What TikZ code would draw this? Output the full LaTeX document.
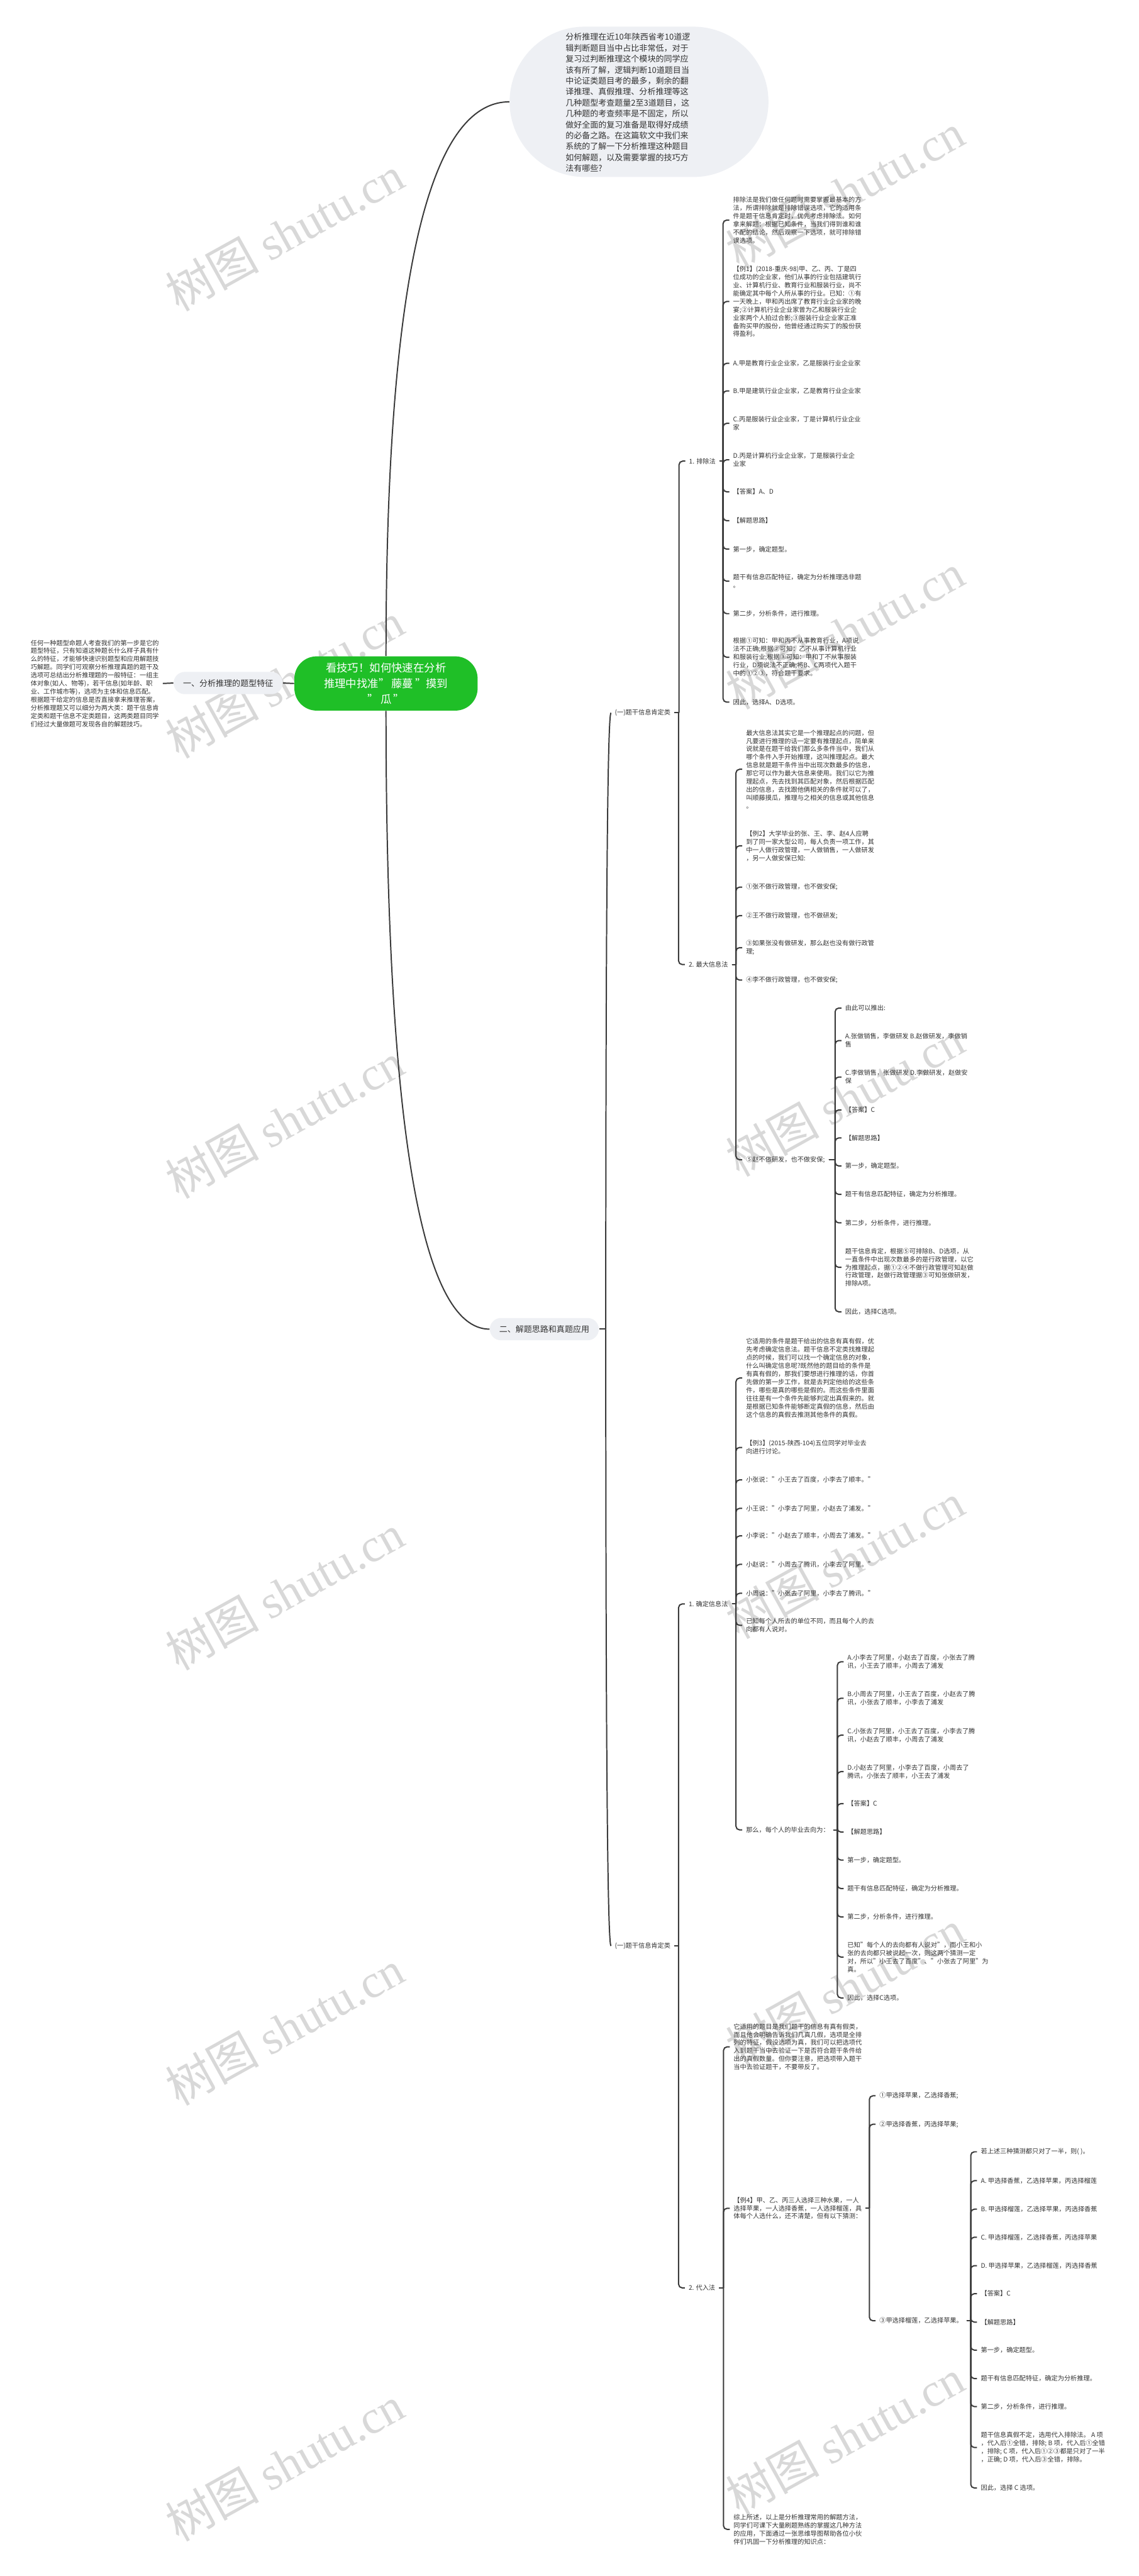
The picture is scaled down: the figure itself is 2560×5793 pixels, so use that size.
\documentclass[tikz,border=0pt]{standalone}
\usepackage{fontspec}
\setmainfont{Noto Sans CJK SC}
\newfontfamily\markfont{Liberation Serif}
\usetikzlibrary{positioning, calc}
\usepackage{xcolor}
\definecolor{RootGreen}{HTML}{1FBF27}
\definecolor{BgTopic}  {HTML}{EEF0F4}
\definecolor{InkGray}  {HTML}{333333}
\definecolor{LineGray} {HTML}{3A3A3A}
\definecolor{MarkGray} {HTML}{D8D8D8}
\tikzset{
  every node/.style={font=\fontsize{4.1pt}{5.2pt}\selectfont, text=InkGray},
  % central topic and first level
  root/.style={fill=RootGreen, text=white, align=center, rounded corners=5mm,
               minimum width=41.2mm, minimum height=12.2mm,
               font=\fontsize{7pt}{10pt}\selectfont},
  topic/.style={fill=BgTopic, rounded corners=2.5mm, minimum width=24.5mm,
                minimum height=5mm, font=\fontsize{5.24pt}{7pt}\selectfont},
  bubble/.style={fill=BgTopic, rounded corners=16.9mm, minimum width=58.2mm,
                 minimum height=33.8mm},
  % plain branch texts
  leaf/.style={anchor=west, align=left, inner xsep=0.8mm, inner ysep=0.4mm},
  conn/.style={draw=LineGray, line width=0.28mm},
  curvy/.style={to path={.. controls ($(\tikztostart)!2/3!(\tikztostart|-\tikztotarget)$)
                and ($(\tikztotarget)!2/3!(\tikztostart|-\tikztotarget)$) .. (\tikztotarget)}},
  wmark/.style={text=MarkGray, rotate=29, font=\fontsize{30pt}{30pt}\selectfont},
}
% bracket hook from a parent to one child
\newcommand\twig[2]{%
  \draw[conn] (#1.east) -- ($(#1.east -| #2.west)+(-14,0)$);
  \draw[conn, rounded corners=0.8mm] ($(#1.east -| #2.west)+(-14,0)$) |- (#2.west);}

\begin{document}
\begin{tikzpicture}[x=0.1mm, y=-0.1mm]
\useasboundingbox (0,0) rectangle (2560,5793);
\fill[white] (0,0) rectangle (2560,5793);

% watermarks
\foreach \wy in {525,1530,2520,3580,4560,5540}
  \node[wmark] (wl\wy) at (640,\wy) {树图 {\markfont shutu.cn}};
\foreach \wy in {430,1420,2470,3510,4470,5480}
  \node[wmark] (wr\wy) at (1900,\wy) {树图 {\markfont shutu.cn}};

% intro bubble
\node[bubble] (intro) at (1437,229) {};
\node[align=left, font=\fontsize{5.24pt}{7pt}\selectfont] (introtxt) at (1412,231)
  {分析推理在近10年陕西省考10道逻\\辑判断题目当中占比非常低，对于\\复习过判断推理这个模块的同学应\\该有所了解，逻辑判断10道题目当\\中论证类题目考的最多，剩余的翻\\译推理、真假推理、分析推理等这\\几种题型考查题量2至3道题目，这\\几种题的考查频率是不固定，所以\\做好全面的复习准备是取得好成绩\\的必备之路。在这篇软文中我们来\\系统的了解一下分析推理这种题目\\如何解题，以及需要掌握的技巧方\\法有哪些?};

\node[root] (root) at (868,1537) {看技巧！如何快速在分析\\推理中找准"\,藤蔓\,"摸到\\"\,瓜\,"};

% left branch
\node[topic] (sec1) at (513,1536) {一、分析推理的题型特征};
\node[leaf, anchor=east] (feat) at (366,1537)
  {任何一种题型命题人考查我们的第一步是它的\\题型特征，只有知道这种题长什么样子具有什\\么的特征，才能够快速识别题型和应用解题技\\巧解题。同学们可观察分析推理真题的题干及\\选项可总结出分析推理题的一般特征：一组主\\体对象(如人、物等)，若干信息(如年龄、职\\业、工作城市等)，选项为主体和信息匹配。\\根据题干给定的信息是否直接拿来推理答案，\\分析推理题又可以细分为两大类：题干信息肯\\定类和题干信息不定类题目，这两类题目同学\\们经过大量做题可发现各自的解题技巧。};

% right branch
\node[topic] (sec2) at (1224,2989) {二、解题思路和真题应用};
\node[leaf] (pos1) at (1374,1603) {(一)题干信息肯定类};
\node[leaf] (pos2) at (1374,4376) {(一)题干信息肯定类};
\node[leaf] (exclude) at (1541,1037) {1. 排除法};
\node[leaf] (maxinfo) at (1540,2169) {2. 最大信息法};
\node[leaf] (sure)    at (1540,3607) {1. 确定信息法};
\node[leaf] (subst)   at (1540,5145) {2. 代入法};

% 1. exclusion
\node[leaf] (ex1)  at (1640,495)  {排除法是我们做任何题时需要掌握最基本的方\\法，所谓排除就是排除错误选项，它的适用条\\件是题干信息肯定时，优先考虑排除法。如何\\拿来解题：根据已知条件，当我们得到谁和谁\\不配的结论，然后观察一下选项，就可排除错\\误选项。};
\node[leaf] (ex2)  at (1640,678)  {【例1】(2018-重庆-98)甲、乙、丙、丁是四\\位成功的企业家，他们从事的行业包括建筑行\\业、计算机行业、教育行业和服装行业，尚不\\能确定其中每个人所从事的行业。已知：①有\\一天晚上，甲和丙出席了教育行业企业家的晚\\宴;②计算机行业企业家曾为乙和服装行业企\\业家两个人拍过合影;③服装行业企业家正准\\备购买甲的股份，他曾经通过购买丁的股份获\\得盈利。};
\node[leaf] (ex3)  at (1640,817)  {A.甲是教育行业企业家，乙是服装行业企业家};
\node[leaf] (ex4)  at (1640,879)  {B.甲是建筑行业企业家，乙是教育行业企业家};
\node[leaf] (ex5)  at (1640,952)  {C.丙是服装行业企业家，丁是计算机行业企业\\家};
\node[leaf] (ex6)  at (1640,1034) {D.丙是计算机行业企业家，丁是服装行业企\\业家};
\node[leaf] (ex7)  at (1640,1106) {【答案】A、D};
\node[leaf] (ex8)  at (1640,1171) {【解题思路】};
\node[leaf] (ex9)  at (1640,1235) {第一步，确定题型。};
\node[leaf] (ex10) at (1640,1307) {题干有信息匹配特征，确定为分析推理选非题\\。};
\node[leaf] (ex11) at (1640,1380) {第二步，分析条件，进行推理。};
\node[leaf] (ex12) at (1640,1478) {根据①可知：甲和丙不从事教育行业，A项说\\法不正确;根据②可知：乙不从事计算机行业\\和服装行业;根据③可知：甲和丁不从事服装\\行业，D项说法不正确;将B、C两项代入题干\\中的①②③，符合题干要求。};
\node[leaf] (ex13) at (1640,1579) {因此，选择A、D选项。};

% 2. most information
\node[leaf] (mx1) at (1669,1730) {最大信息法其实它是一个推理起点的问题，但\\凡要进行推理的话一定要有推理起点，简单来\\说就是在题干给我们那么多条件当中，我们从\\哪个条件入手开始推理，这叫推理起点。最大\\信息就是题干条件当中出现次数最多的信息，\\那它可以作为最大信息来使用。我们以它为推\\理起点，先去找到其匹配对象，然后根据匹配\\出的信息，去找跟他俩相关的条件就可以了，\\叫顺藤摸瓜，推理与之相关的信息或其他信息\\。};
\node[leaf] (mx2) at (1669,1902) {【例2】大学毕业的张、王、李、赵4人应聘\\到了同一家大型公司，每人负责一项工作，其\\中一人做行政管理，一人做销售，一人做研发\\，另一人做安保已知:};
\node[leaf] (mx3) at (1669,1995) {①张不做行政管理，也不做安保;};
\node[leaf] (mx4) at (1669,2059) {②王不做行政管理，也不做研发;};
\node[leaf] (mx5) at (1669,2131) {③如果张没有做研发，那么赵也没有做行政管\\理;};
\node[leaf] (mx6) at (1669,2204) {④李不做行政管理，也不做安保;};
\node[leaf] (mx7) at (1669,2608) {⑤赵不做研发，也不做安保;};

\node[leaf] (fv1)  at (1892,2267) {由此可以推出:};
\node[leaf] (fv2)  at (1892,2340) {A.张做销售，李做研发 B.赵做研发，李做销\\售};
\node[leaf] (fv3)  at (1892,2422) {C.李做销售，张做研发 D.李做研发，赵做安\\保};
\node[leaf] (fv4)  at (1892,2496) {【答案】C};
\node[leaf] (fv5)  at (1892,2559) {【解题思路】};
\node[leaf] (fv6)  at (1892,2622) {第一步，确定题型。};
\node[leaf] (fv7)  at (1892,2686) {题干有信息匹配特征，确定为分析推理。};
\node[leaf] (fv8)  at (1892,2750) {第二步，分析条件，进行推理。};
\node[leaf] (fv9)  at (1892,2850) {题干信息肯定，根据⑤可排除B、D选项，从\\一直条件中出现次数最多的是行政管理，以它\\为推理起点，据①②④不做行政管理可知赵做\\行政管理，赵做行政管理据③可知张做研发，\\排除A项。};
\node[leaf] (fv10) at (1892,2950) {因此，选择C选项。};

% 1. certain information
\node[leaf] (sd1) at (1669,3099) {它适用的条件是题干给出的信息有真有假，优\\先考虑确定信息法。题干信息不定类找推理起\\点的时候，我们可以找一个确定信息的对象，\\什么叫确定信息呢?既然他的题目给的条件是\\有真有假的，那我们要想进行推理的话，你首\\先做的第一步工作，就是去判定他给的这些条\\件，哪些是真的哪些是假的。而这些条件里面\\往往是有一个条件先能够判定出真假来的。就\\是根据已知条件能够断定真假的信息，然后由\\这个信息的真假去推测其他条件的真假。};
\node[leaf] (sd2) at (1669,3255) {【例3】(2015-陕西-104)五位同学对毕业去\\向进行讨论。};
\node[leaf] (sd3) at (1669,3328) {小张说："小王去了百度，小李去了顺丰。"};
\node[leaf] (sd4) at (1669,3392) {小王说："小李去了阿里，小赵去了浦发。"};
\node[leaf] (sd5) at (1669,3454) {小李说："小赵去了顺丰，小周去了浦发。"};
\node[leaf] (sd6) at (1669,3518) {小赵说："小周去了腾讯，小李去了阿里。"};
\node[leaf] (sd7) at (1669,3583) {小周说："小张去了阿里，小李去了腾讯。"};
\node[leaf] (sd8) at (1669,3655) {已知每个人所去的单位不同，而且每个人的去\\向都有人说对。};
\node[leaf] (sd9) at (1669,4115) {那么，每个人的毕业去向为：};

\node[leaf] (nm1)  at (1897,3737) {A.小李去了阿里，小赵去了百度，小张去了腾\\讯，小王去了顺丰，小周去了浦发};
\node[leaf] (nm2)  at (1897,3819) {B.小周去了阿里，小王去了百度，小赵去了腾\\讯，小张去了顺丰，小李去了浦发};
\node[leaf] (nm3)  at (1897,3902) {C.小张去了阿里，小王去了百度，小李去了腾\\讯，小赵去了顺丰，小周去了浦发};
\node[leaf] (nm4)  at (1897,3984) {D.小赵去了阿里，小李去了百度，小周去了\\腾讯，小张去了顺丰，小王去了浦发};
\node[leaf] (nm5)  at (1897,4056) {【答案】C};
\node[leaf] (nm6)  at (1897,4120) {【解题思路】};
\node[leaf] (nm7)  at (1897,4183) {第一步，确定题型。};
\node[leaf] (nm8)  at (1897,4247) {题干有信息匹配特征，确定为分析推理。};
\node[leaf] (nm9)  at (1897,4311) {第二步，分析条件，进行推理。};
\node[leaf] (nm10) at (1897,4401) {已知"每个人的去向都有人说对"，而小王和小\\张的去向都只被说起一次，则这两个猜测一定\\对，所以"小王去了百度"、"小张去了阿里"为\\真。};
\node[leaf] (nm11) at (1897,4493) {因此，选择C选项。};

% 2. substitution
\node[leaf] (sb1) at (1641,4603) {它适用的题目是我们题干的信息有真有假类，\\而且他会明确告诉我们几真几假，选项是全排\\列的特征，假设选项为真，我们可以把选项代\\入到题干当中去验证一下是否符合题干条件给\\出的真假数量。但你要注意，把选项带入题干\\当中去验证题干，不要带反了。};
\node[leaf] (sb2) at (1641,4966) {【例4】甲、乙、丙三人选择三种水果，一人\\选择苹果，一人选择香蕉，一人选择榴莲，具\\体每个人选什么，还不清楚，但有以下猜测：};
\node[leaf] (sb3) at (1641,5688) {综上所述，以上是分析推理常用的解题方法，\\同学们可课下大量刷题熟练的掌握这几种方法\\的应用，下面通过一张思维导图帮助各位小伙\\伴们巩固一下分析推理的知识点：};

\node[leaf] (fr1) at (1969,4713) {①甲选择苹果，乙选择香蕉;};
\node[leaf] (fr2) at (1969,4777) {②甲选择香蕉，丙选择苹果;};
\node[leaf] (fr3) at (1969,5219) {③甲选择榴莲，乙选择苹果。};

\node[leaf] (tp1)  at (2197,4839) {若上述三种猜测都只对了一半，则( )。};
\node[leaf] (tp2)  at (2197,4904) {A. 甲选择香蕉，乙选择苹果，丙选择榴莲};
\node[leaf] (tp3)  at (2197,4968) {B. 甲选择榴莲，乙选择苹果，丙选择香蕉};
\node[leaf] (tp4)  at (2197,5031) {C. 甲选择榴莲，乙选择香蕉，丙选择苹果};
\node[leaf] (tp5)  at (2197,5095) {D. 甲选择苹果，乙选择榴莲，丙选择香蕉};
\node[leaf] (tp6)  at (2197,5158) {【答案】C};
\node[leaf] (tp7)  at (2197,5222) {【解题思路】};
\node[leaf] (tp8)  at (2197,5285) {第一步，确定题型。};
\node[leaf] (tp9)  at (2197,5349) {题干有信息匹配特征，确定为分析推理。};
\node[leaf] (tp10) at (2197,5412) {第二步，分析条件，进行推理。};
\node[leaf] (tp11) at (2197,5504) {题干信息真假不定，选用代入排除法。 A 项\\，代入后①全错，排除; B 项，代入后①全错\\，排除; C 项，代入后①②③都是只对了一半\\，正确; D 项，代入后③全错，排除。};
\node[leaf] (tp12) at (2197,5595) {因此，选择 C 选项。};

% main curves
\draw[conn] (root.north) to[curvy] (intro.west);
\draw[conn] (root.south) to[curvy] (sec2.west);
\draw[conn] (root.west) -- (sec1.east);
\draw[conn] (sec1.west) -- (feat.east);
\coordinate (hub) at ($(sec2.east)+(15,0)$);
\draw[conn] (sec2.east) -- (hub);
\draw[conn] (hub) to[curvy] (pos1.west);
\draw[conn] (hub) to[curvy] (pos2.west);

% brackets
\twig{pos1}{exclude} \twig{pos1}{maxinfo}
\twig{pos2}{sure}    \twig{pos2}{subst}
\foreach \k in {1,...,13} {\twig{exclude}{ex\k}}
\foreach \k in {1,...,7}  {\twig{maxinfo}{mx\k}}
\foreach \k in {1,...,10} {\twig{mx7}{fv\k}}
\foreach \k in {1,...,9}  {\twig{sure}{sd\k}}
\foreach \k in {1,...,11} {\twig{sd9}{nm\k}}
\foreach \k in {1,2,3}    {\twig{subst}{sb\k}}
\foreach \k in {1,2,3}    {\twig{sb2}{fr\k}}
\foreach \k in {1,...,12} {\twig{fr3}{tp\k}}

\end{tikzpicture}
\end{document}
